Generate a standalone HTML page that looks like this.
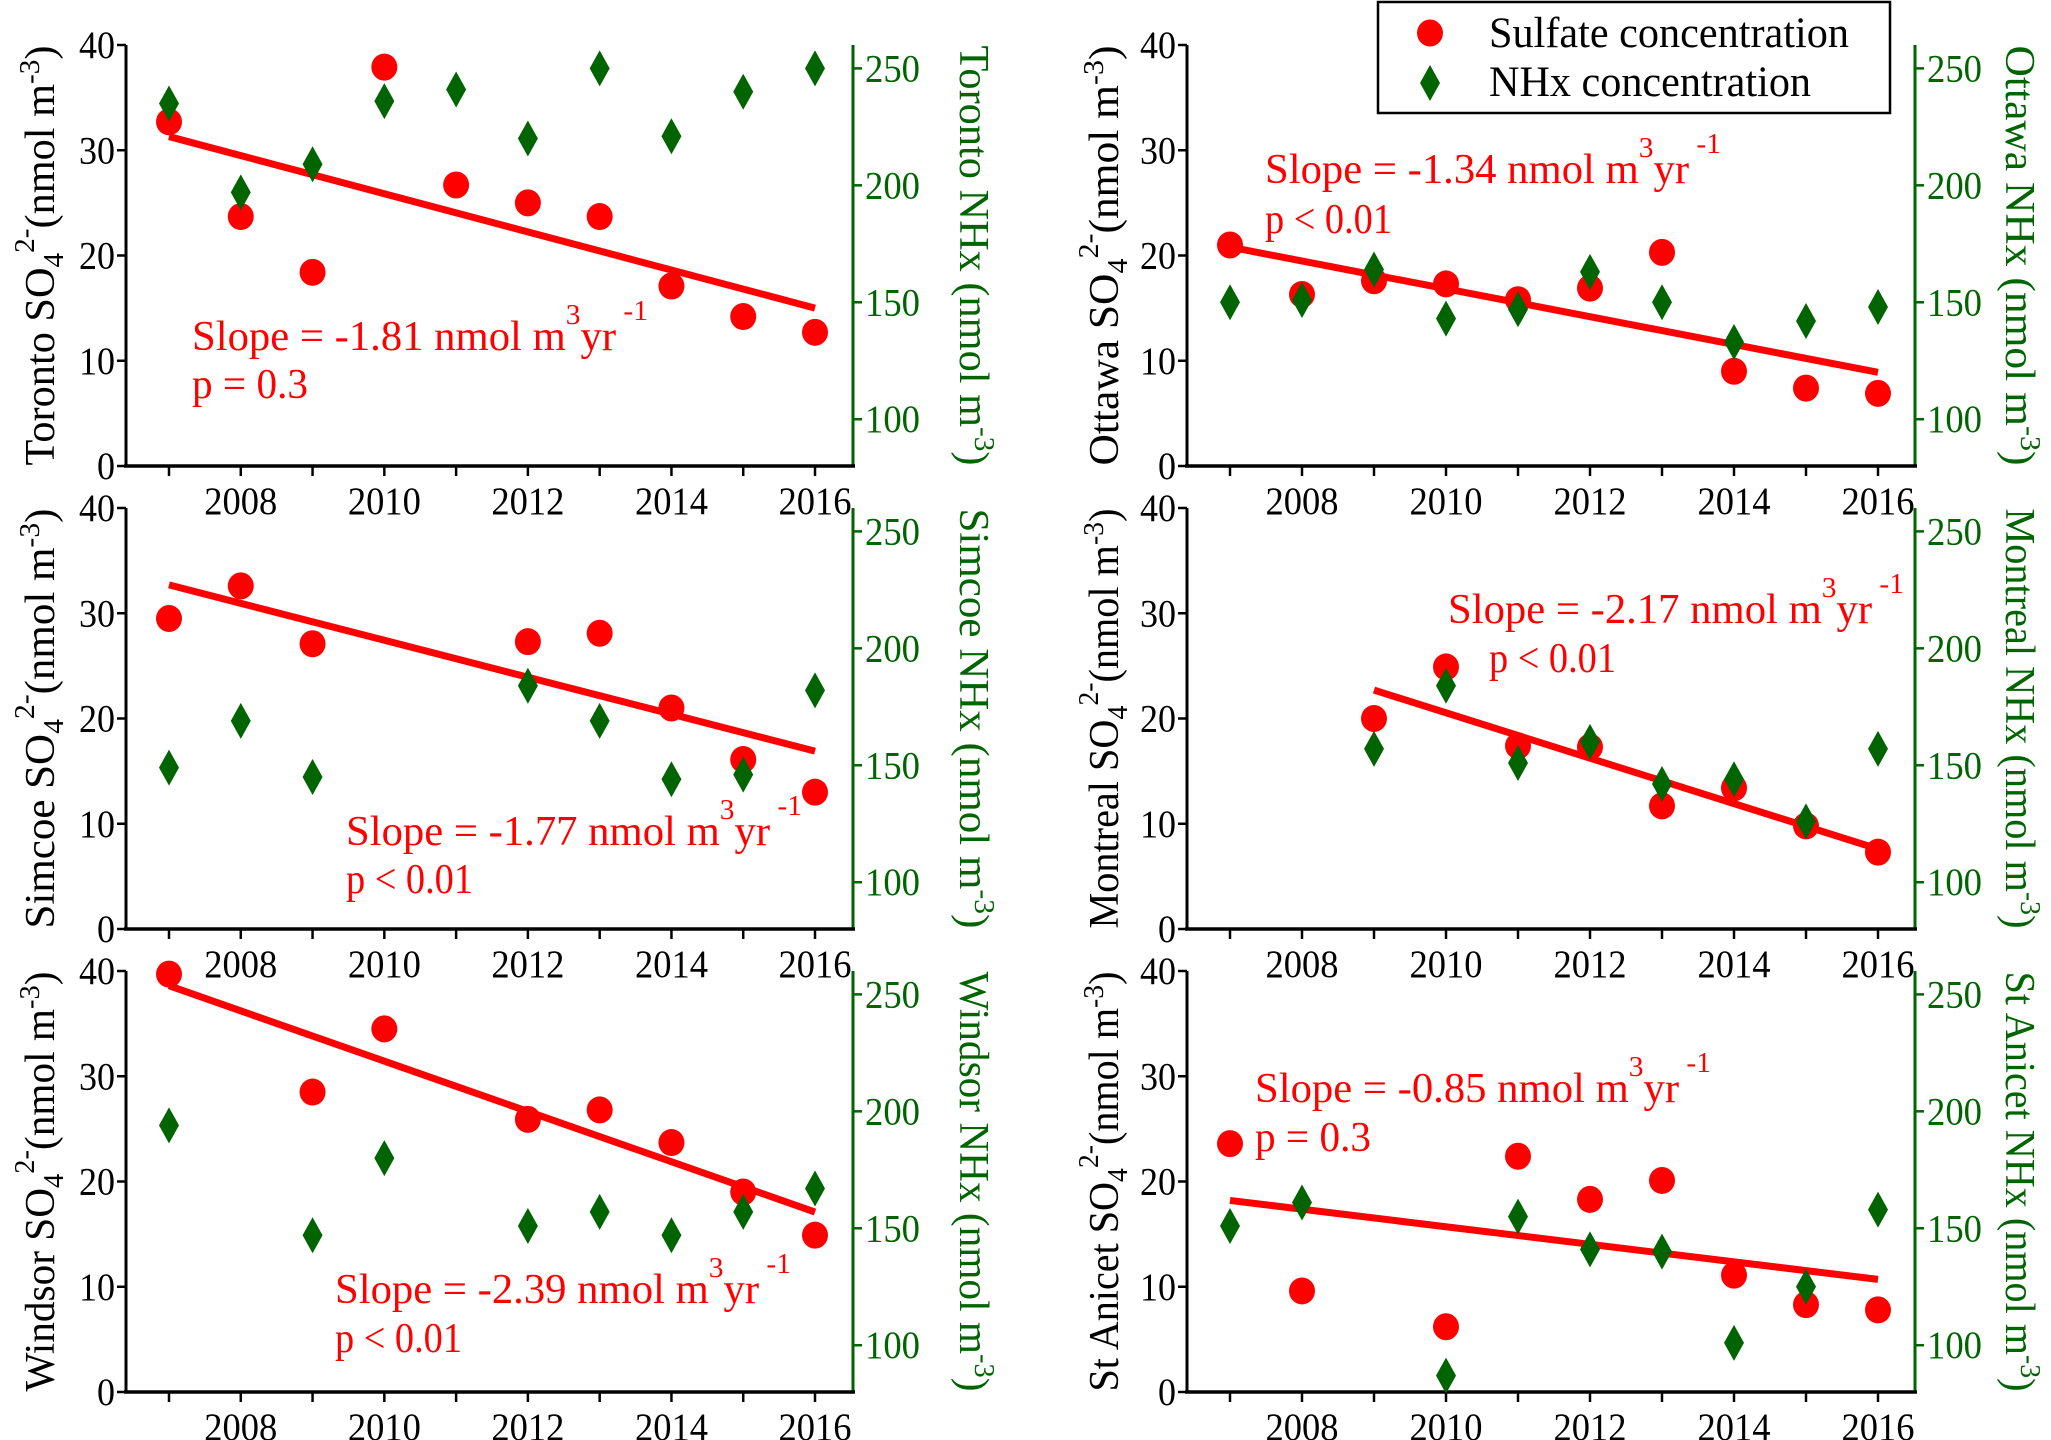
<!DOCTYPE html>
<html><head><meta charset="utf-8"><style>
html,body{margin:0;padding:0;background:#fff;}
svg{display:block;font-family:"Liberation Serif",serif;}
</style></head><body>
<svg id="fig" xmlns="http://www.w3.org/2000/svg" width="2051" height="1440" viewBox="0 0 2051 1440">
<g id="legend">
<rect x="1378" y="2" width="512" height="111" fill="#fff" stroke="#000" stroke-width="2.5"/>
<g><ellipse cx="1430" cy="33" rx="13" ry="13.5" fill="#ff0000"/><text x="1489" y="47" font-size="43" textLength="360" lengthAdjust="spacingAndGlyphs">Sulfate concentration</text></g>
<g><polygon points="1430,65 1440,83 1430,101 1420,83" fill="#006400"/><text x="1489" y="96" font-size="43" textLength="322" lengthAdjust="spacingAndGlyphs">NHx concentration</text></g>
</g>
</svg>
<script>
const years = [2007,2008,2009,2010,2011,2012,2013,2014,2015,2016];
const xTickLabels = [2008,2010,2012,2014,2016];
const leftTicks = [0,10,20,30,40];
const rightTicks = [100,150,200,250];

const torontoSulfate = [32.7,23.7,18.4,37.9,26.7,25.0,23.7,17.1,14.2,12.7];
const torontoNhx = [235,197,209,236,241,220,250,221,240,250];
const torontoTrend = [31.3,15.0];

const ottawaSulfate = [21.0,16.3,17.6,17.3,15.8,16.9,20.3,9.0,7.4,6.9];
const ottawaNhx = [150,151,164,143,147,163,150,133,142,148];
const ottawaTrend = [20.8,8.9];

const simcoeSulfate = [29.5,32.6,27.1,null,null,27.3,28.1,21.0,16.1,13.0];
const simcoeNhx = [149,169,145,null,null,184,169,144,146,182];
const simcoeTrend = [32.7,16.9];

const montrealSulfate = [null,null,20.0,24.9,17.4,17.3,11.7,13.4,9.8,7.3];
const montrealNhx = [null,null,157,184,151,160,142,144,126,157];
const montrealTrend = [22.7,7.6];

const windsorSulfate = [39.7,null,28.5,34.5,null,25.9,26.8,23.7,19.0,14.9];
const windsorNhx = [194,null,147,180,null,151,157,147,157,167];
const windsorTrend = [38.6,17.1];

const stAnicetSulfate = [23.6,9.6,null,6.2,22.4,18.3,20.1,11.1,8.3,7.8];
const stAnicetNhx = [151,161,null,87,155,141,140,101,125,158];
const stAnicetTrend = [18.2,10.7];

const cols=[{axL:126,axR:853,x0:169,x1:815,ylab:40,rlab:974},{axL:1187,axR:1915,x0:1230,x1:1878,ylab:1104,rlab:2020}];
const rows=[{top:45,bot:466},{top:508,bot:929},{top:971,bot:1392}];
const panels=[
{key:'toronto',name:'Toronto',col:0,row:0,s:torontoSulfate,n:torontoNhx,t:torontoTrend,ty0:2007,slope:'-1.81',p:'p = 0.3',tx:192,tyy:350,px:192,py:398},
{key:'ottawa',name:'Ottawa',col:1,row:0,s:ottawaSulfate,n:ottawaNhx,t:ottawaTrend,ty0:2007,slope:'-1.34',p:'p < 0.01',tx:1265,tyy:183,px:1265,py:233},
{key:'simcoe',name:'Simcoe',col:0,row:1,s:simcoeSulfate,n:simcoeNhx,t:simcoeTrend,ty0:2007,slope:'-1.77',p:'p < 0.01',tx:346,tyy:845,px:346,py:893},
{key:'montreal',name:'Montreal',col:1,row:1,s:montrealSulfate,n:montrealNhx,t:montrealTrend,ty0:2009,slope:'-2.17 ',p:'p < 0.01',tx:1448,tyy:623,px:1489,py:672},
{key:'windsor',name:'Windsor',col:0,row:2,s:windsorSulfate,n:windsorNhx,t:windsorTrend,ty0:2007,slope:'-2.39',p:'p < 0.01',tx:335,tyy:1303,px:335,py:1352},
{key:'st-anicet',name:'St Anicet',col:1,row:2,s:stAnicetSulfate,n:stAnicetNhx,t:stAnicetTrend,ty0:2007,slope:'-0.85',p:'p = 0.3',tx:1255,tyy:1102,px:1255,py:1151}
];
const NS='http://www.w3.org/2000/svg';
const svg=document.getElementById('fig');
const legend=document.getElementById('legend');
function mk(tag,attrs,parent){const e=document.createElementNS(NS,tag);for(const k in attrs)e.setAttribute(k,attrs[k]);parent.appendChild(e);return e;}
const GREEN='#006400';
panels.forEach(pn=>{
  const c=cols[pn.col], r=rows[pn.row];
  const xS=y=>c.x0+(y-2007)*(c.x1-c.x0)/9;
  const yL=v=>r.bot-v*(r.bot-r.top)/40;
  const yR=v=>r.bot-(v-80)*(r.bot-r.top)/180;
  const g=mk('g',{},svg);
  
  
  const la=mk('line',{x1:c.axL,y1:r.top,x2:c.axL,y2:r.bot+1,stroke:'#000','stroke-width':3},g);
  
  
  const ra=mk('line',{x1:c.axR,y1:r.top,x2:c.axR,y2:r.bot+1,stroke:GREEN,'stroke-width':3},g);
  
  
  const xa=mk('line',{x1:c.axL-2,y1:r.bot,x2:c.axR+2,y2:r.bot,stroke:'#000','stroke-width':3.5},g);
  
  
  years.forEach(y=>{mk('line',{x1:xS(y),y1:r.bot,x2:xS(y),y2:r.bot+10,stroke:'#000','stroke-width':2.5},g);});
  xTickLabels.forEach(y=>{
    const t=mk('text',{x:xS(y),y:r.bot+48,'font-size':39,'text-anchor':'middle',textLength:73,lengthAdjust:'spacingAndGlyphs'},g);t.textContent=y;
    
    
  });
  leftTicks.forEach(v=>{
    mk('line',{x1:c.axL-9,y1:yL(v),x2:c.axL,y2:yL(v),stroke:'#000','stroke-width':2.5},g);
    const t=mk('text',{x:c.axL-11,y:yL(v)+13,'font-size':39,'text-anchor':'end',textLength:String(v).length*18,lengthAdjust:'spacingAndGlyphs'},g);t.textContent=v;
    
    
  });
  rightTicks.forEach(v=>{
    mk('line',{x1:c.axR,y1:yR(v),x2:c.axR+9,y2:yR(v),stroke:GREEN,'stroke-width':2.5},g);
    const t=mk('text',{x:c.axR+12,y:yR(v)+13,'font-size':39,fill:GREEN,textLength:55,lengthAdjust:'spacingAndGlyphs'},g);t.textContent=v;
    
    
  });
  const cy=(r.top+r.bot)/2;
  const lt=mk('text',{x:0,y:0,'font-size':42,'text-anchor':'middle',textLength:420,lengthAdjust:'spacingAndGlyphs',transform:`translate(${c.ylab+14},${cy}) rotate(-90)`},g);
  lt.innerHTML=`${pn.name} SO<tspan font-size="29" dy="9">4</tspan><tspan font-size="29" dy="-29">2-</tspan><tspan dy="20">(nmol m</tspan><tspan font-size="29" dy="-15">-3</tspan><tspan dy="15">)</tspan>`;
  
  
  const rt=mk('text',{x:0,y:0,'font-size':42,'text-anchor':'middle',fill:GREEN,textLength:420,lengthAdjust:'spacingAndGlyphs',transform:`translate(${c.rlab-14},${cy}) rotate(90)`},g);
  rt.innerHTML=`${pn.name} NHx (nmol m<tspan font-size="29" dy="-15">-3</tspan><tspan dy="15">)</tspan>`;
  
  
  pn.s.forEach((v,i)=>{ if(v==null)return;
    const e=mk('ellipse',{cx:xS(years[i]),cy:yL(v),rx:13,ry:13.5,fill:'#ff0000'},g);
    
    
  });
  const tl=mk('line',{x1:xS(pn.ty0),y1:yL(pn.t[0]),x2:xS(2016),y2:yL(pn.t[1]),stroke:'#ff0000','stroke-width':7},g);
  
  
  pn.n.forEach((v,i)=>{ if(v==null)return;
    const x=xS(years[i]),y=yR(v);
    const d=mk('polygon',{points:`${x},${y-18} ${x+10},${y} ${x},${y+18} ${x-10},${y}`,fill:GREEN},g);
    
    
  });
  const st=mk('text',{x:pn.tx,y:pn.tyy,'font-size':42,fill:'#ff0000',textLength:456,lengthAdjust:'spacingAndGlyphs'},g);
  st.innerHTML=`Slope = ${pn.slope} nmol m<tspan font-size="29" dy="-26">3</tspan><tspan dy="26">yr</tspan><tspan font-size="29" dy="-30"> -1</tspan>`;
  
  
  const pt=mk('text',{x:pn.px,y:pn.py,'font-size':42,fill:'#ff0000',textLength:pn.p.length>7?127:116,lengthAdjust:'spacingAndGlyphs'},g);
  pt.textContent=pn.p;
  
  
});
svg.appendChild(legend);
</script>
</body></html>
